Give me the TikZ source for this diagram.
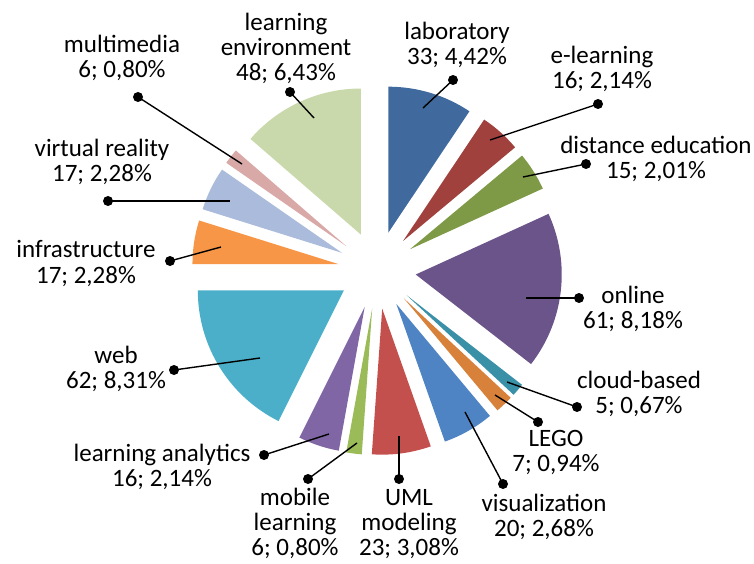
\documentclass[tikz,border=0pt]{standalone}
\usepackage{fontspec}
\setmainfont{Carlito}
\definecolor{cLab}{HTML}{406A9E}
\definecolor{cEl}{HTML}{A0413D}
\definecolor{cDist}{HTML}{7E9A46}
\definecolor{cOnl}{HTML}{6A5489}
\definecolor{cCloud}{HTML}{3A91A7}
\definecolor{cLego}{HTML}{D7813A}
\definecolor{cVis}{HTML}{4F84C4}
\definecolor{cUml}{HTML}{C4504E}
\definecolor{cMob}{HTML}{9BBB59}
\definecolor{cLa}{HTML}{8066A4}
\definecolor{cWeb}{HTML}{4BAFC9}
\definecolor{cInfra}{HTML}{F79646}
\definecolor{cVr}{HTML}{AABBDB}
\definecolor{cMm}{HTML}{D9A9A8}
\definecolor{cLe}{HTML}{C9D9AC}
\newcommand\pieslice[3]{%
  \pgfmathsetmacro\sa{90-#1/352*360}%
  \pgfmathsetmacro\ea{90-#2/352*360}%
  \pgfmathsetmacro\ma{(\sa+\ea)/2}%
  \fill[#3] (C) ++(\ma:39) -- ++(\sa:146) arc[start angle=\sa, end angle=\ea, radius=146] -- cycle;%
}
\begin{document}
\begin{tikzpicture}[x=1pt,y=1pt,
  lbl/.style={align=center, anchor=base, inner sep=0pt, font=\fontsize{25}{25}\selectfont},
  dot/.style={circle, fill=black, inner sep=0pt, minimum size=10pt},
  leader/.style={draw=black, line width=1.4pt}]
\useasboundingbox (0,0) rectangle (754,563);
\coordinate (C) at (377,293);
% slices
\pieslice{0}{33}{cLab}
\pieslice{33}{49}{cEl}
\pieslice{49}{64}{cDist}
\pieslice{64}{125}{cOnl}
\pieslice{125}{130}{cCloud}
\pieslice{130}{137}{cLego}
\pieslice{137}{157}{cVis}
\pieslice{157}{180}{cUml}
\pieslice{180}{186}{cMob}
\pieslice{186}{202}{cLa}
\pieslice{202}{264}{cWeb}
\pieslice{264}{281}{cInfra}
\pieslice{281}{298}{cVr}
\pieslice{298}{304}{cMm}
\pieslice{304}{352}{cLe}
% labels (anchored at the baseline of the last line)
\node[lbl] (tLe) at (286,482) {learning\\environment\\48; 6,43\%};
\node[lbl] (tMm) at (122,485) {multimedia\\6; 0,80\%};
\node[lbl] (tVr) at (102,381) {virtual reality\\17; 2,28\%};
\node[lbl] (tInfra) at (86,280) {infrastructure\\17; 2,28\%};
\node[lbl] (tWeb) at (116,175) {web\\62; 8,31\%};
\node[lbl] (tLa) at (162,77) {learning analytics\\16; 2,14\%};
\node[lbl] (tMob) at (295,8) {mobile\\learning\\6; 0,80\%};
\node[lbl] (tUml) at (409,8) {UML\\modeling\\23; 3,08\%};
\node[lbl] (tVis) at (544,27) {visualization\\20; 2,68\%};
\node[lbl] (tLego) at (556,92) {LEGO\\7; 0,94\%};
\node[lbl] (tCloud) at (639,150) {cloud-based\\5; 0,67\%};
\node[lbl] (tOnl) at (633,235) {online\\61; 8,18\%};
\node[lbl] (tDist) at (656,384) {distance education\\15; 2,01\%};
\node[lbl] (tEl) at (602,474) {e-learning\\16; 2,14\%};
\node[lbl] (tLab) at (457,498) {laboratory\\33; 4,42\%};
% dots and ends
\node[dot] (dLe) at (290,471) {};   \coordinate (eLe) at (314,445);
\node[dot] (dMm) at (138,466) {};   \coordinate (eMm) at (242,399);
\node[dot] (dVr) at (108,362) {};   \coordinate (eVr) at (230,362);
\node[dot] (dInfra) at (170,302) {};\coordinate (eInfra) at (221,316);
\node[dot] (dWeb) at (174,193) {};  \coordinate (eWeb) at (260,205);
\node[dot] (dLa) at (264,108) {};   \coordinate (eLa) at (329,129);
\node[dot] (dMob) at (308,84) {};   \coordinate (eMob) at (357,120);
\node[dot] (dUml) at (399,84) {};   \coordinate (eUml) at (399,127);
\node[dot] (dVis) at (503,79) {};   \coordinate (eVis) at (465,151);
\node[dot] (dLego) at (538,141) {}; \coordinate (eLego) at (495,168);
\node[dot] (dCloud) at (577,156) {};\coordinate (eCloud) at (507,181);
\node[dot] (dOnl) at (579,265) {};  \coordinate (eOnl) at (526,265);
\node[dot] (dDist) at (586,399) {}; \coordinate (eDist) at (523,386);
\node[dot] (dEl) at (598,459) {};   \coordinate (eEl) at (490,423);
\node[dot] (dLab) at (453,483) {};  \coordinate (eLab) at (423,455);
\foreach \n in {Le,Mm,Vr,Infra,Web,La,Mob,Uml,Vis,Lego,Cloud,Onl,Dist,El,Lab}
  \draw[leader] (d\n.center) -- (e\n);
\end{tikzpicture}
\end{document}
